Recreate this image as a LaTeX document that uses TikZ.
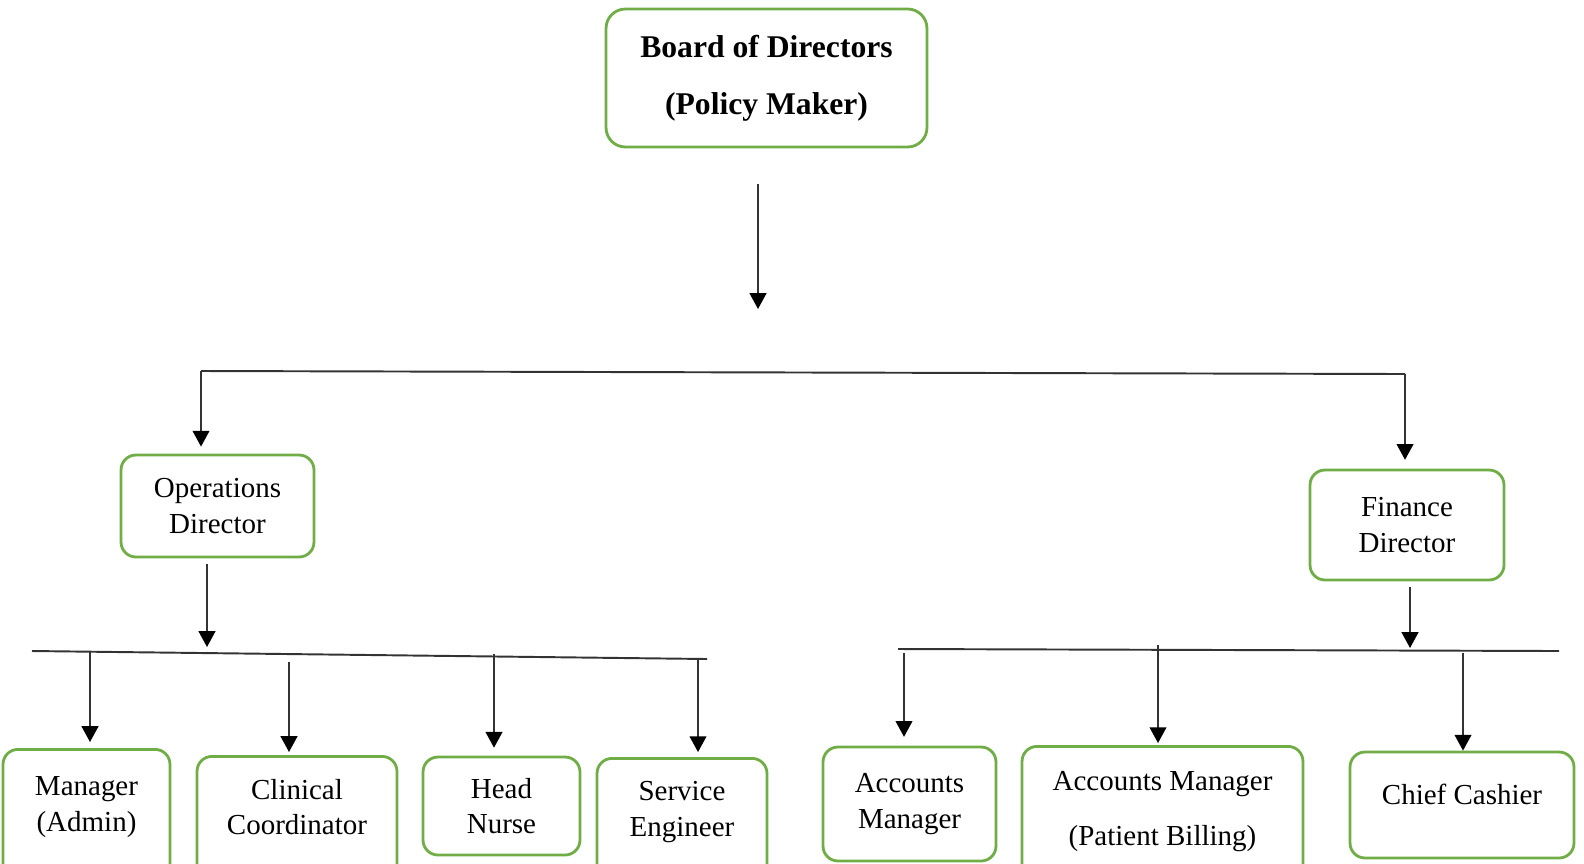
\documentclass[tikz,border=0pt]{standalone}
\usepackage{fontspec}
\setmainfont{Liberation Serif}
\usetikzlibrary{arrows.meta}
\definecolor{boxgreen}{HTML}{70AD47}

\begin{document}
\begin{tikzpicture}[
    x=0.02cm, y=-0.02cm,
    box/.style={draw=boxgreen, line width=1.6pt, rounded corners=8.5pt, align=center,
      font=\fontsize{16.5}{20.2}\selectfont},
    cutbox/.style={box, anchor=north, text depth=60pt},
    arr/.style={-{Triangle[length=9pt, width=9.5pt, color=black]}, line width=1.1pt, draw=black!80},
    bus/.style={line width=1.1pt, draw=black!80}
  ]
  \clip (0,0) rectangle (1584,863);

  % Top level
  \node (board) [box, rounded corners=11pt, minimum width=6.42cm, minimum height=2.76cm,
    font=\fontsize{18}{32.7}\bfseries\selectfont] at (766.5,78) {Board of Directors\\(Policy Maker)};

  % Directors
  \node (ops) [box, minimum width=3.86cm, minimum height=2.04cm] at (217.5,506) {Operations\\Director};
  \node (fin) [box, minimum width=3.88cm, minimum height=2.2cm] at (1407,525) {Finance\\Director};

  % Operations staff
  \node (mgr)   [cutbox, minimum width=3.34cm, inner ysep=15.6pt] at (86.5,748) {Manager\\(Admin)};
  \node (clin)  [cutbox, minimum width=4.0cm, inner ysep=12.9pt] at (297,755) {Clinical\\Coordinator};
  \node (nurse) [box, minimum width=3.14cm, minimum height=1.96cm] at (501.5,806) {Head\\Nurse};
  \node (serv)  [cutbox, minimum width=3.4cm, inner ysep=13.1pt] at (682,757) {Service\\Engineer};

  % Finance staff
  \node (acc)  [box, minimum width=3.46cm, minimum height=2.28cm] at (909.5,804) {Accounts\\Manager};
  \node (bill) [cutbox, minimum width=5.62cm, inner ysep=14.4pt,
    font=\fontsize{16.5}{31.3}\selectfont] at (1162.5,745) {Accounts Manager\\(Patient Billing)};
  \node (cash) [box, minimum width=4.48cm, minimum height=2.12cm, text depth=12pt] at (1462,805) {Chief Cashier};

  % Bus lines
  \coordinate (topdrop) at (758,309);
  \coordinate (busL) at (201,371);
  \coordinate (busR) at (1405,374);
  \coordinate (opsdrop) at (207,647);
  \coordinate (lbusL) at (32,651);
  \coordinate (lbusR) at (707,659);
  \coordinate (findrop) at (1410,648);
  \coordinate (rbusL) at (898,649);
  \coordinate (rbusR) at (1559,651);

  % Branch points
  \coordinate (o1) at (90,651);
  \coordinate (o2) at (289,662);
  \coordinate (o3) at (494,654);
  \coordinate (o4) at (698,659);
  \coordinate (f1) at (904,653);
  \coordinate (f2) at (1158,645);
  \coordinate (f3) at (1463,653);

  % Board to directors
  \draw[arr, shorten <=20pt] (board.south -| topdrop) -- (topdrop);
  \draw[bus] (busL) -- (busR);
  \draw[arr, shorten >=4pt] (busL) -- (busL |- ops.north);
  \draw[arr, shorten >=5pt] (busR) -- (busR |- fin.north);

  % Operations branch
  \draw[arr, shorten <=3pt] (ops.south -| opsdrop) -- (opsdrop);
  \draw[bus] (lbusL) -- (lbusR);
  \draw[arr, shorten >=3.4pt] (o1) -- (o1 |- mgr.north);
  \draw[arr, shorten >=1.7pt] (o2) -- (o2 |- clin.north);
  \draw[arr, shorten >=4.5pt] (o3) -- (o3 |- nurse.north);
  \draw[arr, shorten >=2.8pt] (o4) -- (o4 |- serv.north);

  % Finance branch
  \draw[arr, shorten <=3pt] (fin.south -| findrop) -- (findrop);
  \draw[bus] (rbusL) -- (rbusR);
  \draw[arr, shorten >=5pt] (f1) -- (f1 |- acc.north);
  \draw[arr, shorten >=1.1pt] (f2) -- (f2 |- bill.north);
  \draw[arr] (f3) -- (f3 |- cash.north);
\end{tikzpicture}
\end{document}
